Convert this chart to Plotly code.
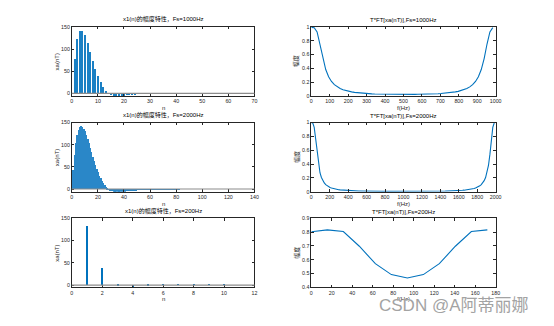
import plotly.graph_objects as go

# ---------------- data ----------------
# x1(n) sequences (sampled signal), read from the left column
x1000 = [0, 78.36, 122.42, 141.02, 141.77, 131.06, 113.82, 93.79, 73.52, 54.72,
         38.33, 24.80, 14.15, 6.24, 0.63, -3.01, -5.10, -6.04, -6.17, -5.74,
         -5.04, -4.18, -3.30, -2.47, -1.75, -1.15, -0.67, -0.31, -0.06, 0.11,
         0.21, 0.26, 0.27, 0.25, 0.22, 0.19, 0.15, 0.11, 0.08, 0.05,
         0.03, 0.02, 0.004, -0.004, -0.008, -0.011, -0.012, -0.011, -0.010, -0.008,
         -0.007, -0.005, -0.004, -0.003, -0.002, -0.001, -0.001, 0, 0, 0,
         0, 0, 0, 0]
x2000 = [0, 44.05, 78.36, 104.11, 122.42, 134.41, 141.02, 143.20, 141.77, 137.50,
         131.06, 123.0, 113.82, 103.98, 93.79, 83.56, 73.52, 63.87, 54.72, 46.20,
         38.33, 31.21, 24.80, 19.13, 14.15, 9.84, 6.24, 3.14, 0.63, -1.41,
         -3.01, -4.21, -5.10, -5.69, -6.04, -6.19, -6.17, -6.02, -5.74, -5.42,
         -5.04, -4.62, -4.18, -3.74, -3.30, -2.88, -2.47, -2.10, -1.75, -1.43,
         -1.15, -0.90, -0.67, -0.48, -0.31, -0.17, -0.06, 0.04, 0.11, 0.16,
         0.21, 0.24, 0.26, 0.27, 0.27, 0.26, 0.25, 0.24, 0.22, 0.20,
         0.19, 0.17, 0.15, 0.13, 0.11, 0.10, 0.08, 0.07, 0.05, 0.04,
         0.03, 0.02, 0.015, 0.009, 0.004, 0.0, -0.004, -0.006, -0.008, -0.010,
         -0.011, -0.011, -0.011, -0.011, -0.010, -0.010, -0.009, -0.008, -0.007, -0.006,
         -0.005, -0.004, -0.003, -0.003, -0.002, -0.001, -0.001, 0, 0, 0,
         0, 0, 0, 0, 0, 0, 0, 0, 0, 0,
         0, 0, 0, 0, 0, 0, 0, 0]
x200 = [0, 131.06, 38.33, -3.01, -5.04, -1.15, 0.21, 0.19, 0.03, -0.01, -0.01, 0.0]

# |T*FT[xa(nT)]| read from the right column
X1000 = [0.992, 0.988, 0.927, 0.752, 0.542, 0.383, 0.279, 0.211, 0.165, 0.133,
         0.109, 0.091, 0.078, 0.068, 0.060, 0.053, 0.048, 0.043, 0.040, 0.037,
         0.034, 0.032, 0.030, 0.029, 0.027, 0.026, 0.025, 0.025, 0.024, 0.024,
         0.023, 0.023, 0.023, 0.023, 0.023, 0.024, 0.024, 0.025, 0.025, 0.026,
         0.027, 0.029, 0.030, 0.032, 0.034, 0.037, 0.040, 0.043, 0.048, 0.053,
         0.060, 0.068, 0.078, 0.091, 0.109, 0.133, 0.165, 0.211, 0.279, 0.383,
         0.542, 0.752, 0.927, 0.988]
X2000 = [0.998, 0.994, 0.930, 0.751, 0.540, 0.380, 0.275, 0.206, 0.160, 0.127,
         0.103, 0.086, 0.073, 0.062, 0.054, 0.047, 0.042, 0.037, 0.033, 0.030,
         0.027, 0.025, 0.023, 0.021, 0.0195, 0.018, 0.017, 0.016, 0.015, 0.014,
         0.013, 0.0125, 0.012, 0.011, 0.011, 0.010, 0.0098, 0.0094, 0.0091, 0.0088,
         0.0084, 0.0082, 0.0079, 0.0077, 0.0075, 0.0073, 0.0071, 0.0069, 0.0068, 0.0066,
         0.0065, 0.0064, 0.0063, 0.0062, 0.0061, 0.0060, 0.0059, 0.0059, 0.0058, 0.0058,
         0.0057, 0.0057, 0.0057, 0.0057, 0.0057, 0.0057, 0.0057, 0.0057, 0.0057, 0.0058,
         0.0058, 0.0059, 0.0059, 0.0060, 0.0061, 0.0062, 0.0063, 0.0064, 0.0065, 0.0066,
         0.0068, 0.0069, 0.0071, 0.0073, 0.0075, 0.0077, 0.0079, 0.0082, 0.0084, 0.0088,
         0.0091, 0.0094, 0.0098, 0.010, 0.011, 0.011, 0.012, 0.0125, 0.013, 0.014,
         0.015, 0.016, 0.017, 0.018, 0.0195, 0.021, 0.023, 0.025, 0.027, 0.030,
         0.033, 0.037, 0.042, 0.047, 0.054, 0.062, 0.073, 0.086, 0.103, 0.127,
         0.160, 0.206, 0.275, 0.380, 0.540, 0.751, 0.930, 0.994]
X200 = [0.803, 0.816, 0.804, 0.698, 0.572, 0.493, 0.468, 0.493, 0.572, 0.698, 0.804, 0.816]

Tp = 0.064  # record length (s): frequency step 1/Tp

left_titles = ["x1(n)的幅度特性，Fs=1000Hz", "x1(n)的幅度特性，Fs=2000Hz", "x1(n)的幅度特性，Fs=200Hz"]
right_titles = ["T*FT[xa(nT)],Fs=1000Hz", "T*FT[xa(nT)],Fs=2000Hz", "T*FT[xa(nT)],Fs=200Hz"]

# ---------------- layout geometry ----------------
W, H = 554, 326
BLUE = "#0072BD"
FONT = "Liberation Sans, Arial, Noto Sans CJK SC, sans-serif"
AX = "#262626"

xdom_left = [71.7 / W, 256.7 / W]
xdom_right = [314.3 / W, 501.0 / W]
rows_px = [(24.3, 94.8), (121.8, 192.3), (219.3, 289.8)]
ydoms = [[1 - b / H, 1 - t / H] for t, b in rows_px]

seqs = [x1000, x2000, x200]
specs = [X1000, X2000, X200]
left_xr = [[0, 70], [0, 140], [0, 12]]
left_dt = [10, 20, 2]
right_xr = [[0, 1000], [0, 2000], [0, 180]]
right_dt = [100, 200, 20]
right_yr = [[0, 1], [0, 1], [0.4, 0.9]]
right_ydt = [0.2, 0.2, 0.1]
bar_w = [0.42, 0.6, 0.08]
bar_col = ["#1a80c4", "#2a87c8", BLUE]

fig = go.Figure()
layout = dict(
    width=W, height=H, margin=dict(l=0, r=0, t=0, b=0),
    paper_bgcolor="white", plot_bgcolor="white", showlegend=False,
    font=dict(family=FONT, size=5.5, color=AX),
)
annotations = []
shapes = []


def axis_common(dom, rng, dtick, anchor):
    return dict(domain=dom, range=rng, dtick=dtick, tick0=0,
                showgrid=False, zeroline=False, showline=True, linecolor=AX,
                linewidth=0.8, mirror="ticks", ticks="inside", ticklen=2.5,
                tickwidth=0.6, tickcolor=AX, anchor=anchor,
                tickfont=dict(size=5.3, color=AX, family=FONT))


def ax_id(k):
    return "" if k == 1 else str(k)


for r in range(3):
    i = 2 * r + 1
    j = 2 * r + 2
    xl, yl = "x" + ax_id(i), "y" + ax_id(i)
    xr, yr = "x" + ax_id(j), "y" + ax_id(j)
    seq = seqs[r]
    n = list(range(len(seq)))
    fig.add_trace(go.Bar(x=n, y=seq, width=bar_w[r], marker=dict(color=bar_col[r], line=dict(width=0)),
                         xaxis=xl, yaxis=yl))
    spec = specs[r]
    f = [k / Tp for k in range(len(spec))]
    fig.add_trace(go.Scatter(x=f, y=spec, mode="lines", line=dict(color=BLUE, width=1.1),
                             xaxis=xr, yaxis=yr))

    ymin = min(seq)
    layout["xaxis" + ax_id(i)] = axis_common(xdom_left, left_xr[r], left_dt[r], yl)
    layout["yaxis" + ax_id(i)] = axis_common(ydoms[r], [ymin, 150], 50, xl)
    layout["yaxis" + ax_id(i)]["tickvals"] = [0, 50, 100, 150]
    layout["xaxis" + ax_id(j)] = axis_common(xdom_right, right_xr[r], right_dt[r], yr)
    layout["yaxis" + ax_id(j)] = axis_common(ydoms[r], right_yr[r], right_ydt[r], xr)

    # baseline at zero
    shapes.append(dict(type="line", xref=xl + " domain", yref=yl, x0=0, x1=1, y0=0, y1=0,
                       line=dict(color="#8c8c8c", width=1.2), layer="above"))

    top = ydoms[r][1]
    bot = ydoms[r][0]
    for dom, title, xlab, ylab, ylx in [
        (xdom_left, left_titles[r], "n", "xa(nT)", 56.7 / W),
        (xdom_right, right_titles[r], "f(Hz)", "幅度", 299.7 / W),
    ]:
        cx = (dom[0] + dom[1]) / 2
        annotations.append(dict(text=title, x=cx, y=top + 1.5 / H, xref="paper", yref="paper",
                                xanchor="center", yanchor="bottom", showarrow=False,
                                font=dict(size=6, color="#000", family=FONT)))
        annotations.append(dict(text=xlab, x=cx, y=bot - 12 / H, xref="paper", yref="paper",
                                xanchor="center", yanchor="middle", showarrow=False,
                                font=dict(size=6, color=AX, family=FONT)))
        annotations.append(dict(text=ylab, x=ylx, y=(top + bot) / 2, xref="paper", yref="paper",
                                xanchor="center", yanchor="middle", showarrow=False, textangle=-90,
                                font=dict(size=6, color=AX, family=FONT)))

# watermark
annotations.append(dict(text="CSDN @A阿蒂丽娜", x=537 / W, y=1 - 308 / H, xref="paper", yref="paper",
                        xanchor="right", yanchor="middle", showarrow=False,
                        font=dict(size=17, color="#a3a3a3",
                                  family="Liberation Sans, Arial, Noto Sans CJK SC, sans-serif",
                                  shadow="0px 0px 2px white")))

layout["annotations"] = annotations
layout["shapes"] = shapes
layout["bargap"] = 0
fig.update_layout(**layout)
fig.write_html("out.html")
